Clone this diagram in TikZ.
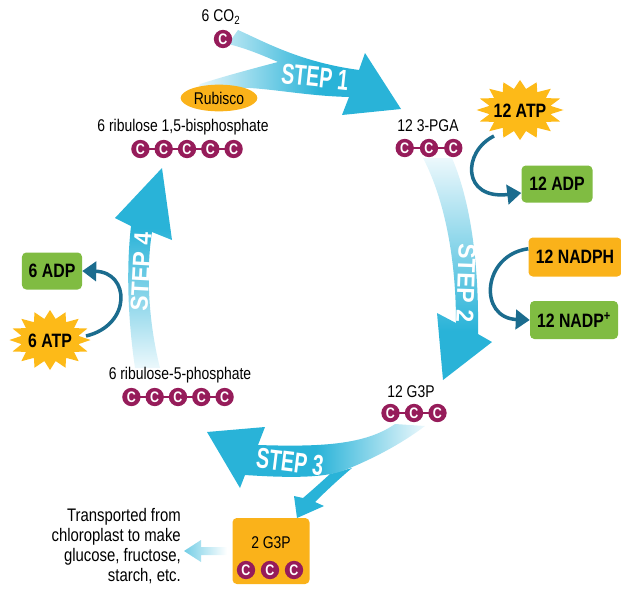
\documentclass[tikz,border=0pt]{standalone}
\usepackage{fontspec}
\setmainfont{Liberation Sans}[FakeStretch=0.82]
\newfontfamily\stepfont{Liberation Sans}[FakeStretch=0.68]
\newfontfamily\stepvfont{Liberation Sans}[FakeStretch=0.93]
\usetikzlibrary{shapes.geometric,arrows.meta}

\definecolor{stepcyan}{RGB}{41,179,216}
\definecolor{stepfaint}{RGB}{236,248,252}
\definecolor{carbon}{RGB}{150,28,90}
\definecolor{sunorange}{RGB}{250,178,26}
\definecolor{adpgreen}{RGB}{128,188,66}
\definecolor{cofteal}{RGB}{27,108,142}
\definecolor{burstyellow}{RGB}{253,186,24}

\pgfdeclarehorizontalshading{fadeEast}{100bp}{color(0bp)=(stepfaint); color(25bp)=(stepfaint); color(55bp)=(stepcyan); color(100bp)=(stepcyan)}
\pgfdeclarehorizontalshading{fadeWest}{100bp}{color(0bp)=(stepcyan); color(50bp)=(stepcyan); color(75bp)=(stepfaint); color(100bp)=(stepfaint)}
\pgfdeclareverticalshading{fadeSouth}{100bp}{color(0bp)=(stepcyan); color(36bp)=(stepcyan); color(75bp)=(stepfaint); color(100bp)=(stepfaint)}
\pgfdeclareverticalshading{fadeNorth}{100bp}{color(0bp)=(stepfaint); color(25bp)=(stepfaint); color(60bp)=(stepcyan); color(100bp)=(stepcyan)}

\pgfdeclarelayer{bands}
\pgfdeclarelayer{links}
\pgfsetlayers{bands,links,main}

% chain of carbon atoms: name, x, y, count, spacing
\newcommand{\carbons}[5]{%
  \foreach \k in {1,...,#4}
    \node[catom] (#1-\k) at ({#2+(\k-1-(#4-1)/2)*#5}, #3) {C};
  \begin{pgfonlayer}{links}
    \draw[carbon, line width=1.3pt] (#1-1.center) -- (#1-#4.center);
  \end{pgfonlayer}
}

\begin{document}
\begin{tikzpicture}[x=0.03cm,y=-0.03cm,
  lbl/.style={font=\fontsize{14.5}{17}\selectfont, inner sep=0pt},
  boxlbl/.style={font=\bfseries\fontsize{16.5}{19}\selectfont},
  steplbl/.style={font=\stepfont\bfseries\fontsize{24.5}{24}\selectfont, text=white, inner sep=0pt},
  stepvlbl/.style={font=\stepvfont\bfseries\fontsize{21}{21}\selectfont, text=white, inner sep=0pt},
  catom/.style={circle, fill=carbon, text=white, inner sep=0pt, minimum size=0.55cm, font=\bfseries\fontsize{13}{13}\selectfont},
  greenbox/.style={rectangle, rounded corners=0.13cm, fill=adpgreen, inner sep=0pt, boxlbl},
  orangebox/.style={rectangle, rounded corners=0.13cm, fill=sunorange, inner sep=0pt, boxlbl},
  burst/.style={star, star points=16, star point ratio=1.4, fill=burstyellow, inner sep=0pt, minimum size=1.8cm},
  cofarrow/.style={cofteal, line width=3pt, -{Triangle[length=0.42cm,width=0.58cm]}}]
\useasboundingbox (0,0) rectangle (621,588);

% Step bands
\begin{pgfonlayer}{bands}
\shade[shading=fadeEast] (238,30) .. controls (265,42) and (300,62) .. (359,70) -- (365,53) -- (401,109) -- (342,115) -- (349,97)
  .. controls (310,96) and (280,90) .. (250,88) .. controls (230,87) and (210,92) .. (195,96) -- (200,84)
  .. controls (225,76) and (255,68) .. (278,62) .. controls (262,55) and (245,48) .. (228,44) -- cycle;
\shade[shading=fadeSouth] (423,158) .. controls (445,200) and (456,260) .. (456,323) -- (437,313) -- (443,380) -- (492,342) -- (478,334)
  .. controls (479,260) and (470,200) .. (452,158) -- cycle;
\fill[stepcyan] (330,474) .. controls (318,485) and (310,492) .. (303,498) -- (294,496) -- (297,518) -- (324,506) -- (315,502)
  .. controls (325,492) and (340,478) .. (352,468) -- cycle;
\shade[shading=fadeWest] (395,424) .. controls (365,445) and (320,447) .. (258,445) -- (265,427) -- (207,432) -- (240,488) -- (245,475)
  .. controls (290,478) and (325,478) .. (345,470) .. controls (370,460) and (400,445) .. (425,426) -- cycle;
\shade[shading=fadeNorth] (135,368) .. controls (128,320) and (126,270) .. (131,226) -- (115,218) -- (162,168) -- (172,240) -- (152,232)
  .. controls (146,270) and (148,320) .. (160,368) -- cycle;
\end{pgfonlayer}

\node[steplbl, rotate=-6] (step1) at (315,77) {STEP 1};
\node[stepvlbl, rotate=-92] (step2) at (466,283) {STEP 2};
\node[steplbl, rotate=-7] (step3) at (290,462) {STEP 3};
\node[stepvlbl, rotate=87] (step4) at (141,272) {STEP 4};

% Molecules
\node[lbl] (co2lbl) at (221,17) {6 CO\textsubscript{2}};
\node[catom] (co2c) at (223,39) {C};
\node[ellipse, fill=sunorange, minimum width=2.3cm, minimum height=0.8cm, lbl] (rubisco) at (219,98) {Rubisco};
\node[lbl] (rubplbl) at (183,127) {6 ribulose 1,5-bisphosphate};
\carbons{rubp}{187}{149}{5}{23.3}
\node[lbl] (pgalbl) at (428,126) {12 3-PGA};
\carbons{pga}{429}{148}{3}{24.3}
\node[lbl] (gaplbl) at (411,392) {12 G3P};
\carbons{gap}{414}{413}{3}{23.5}
\node[lbl] (rufplbl) at (180,375) {6 ribulose-5-phosphate};
\carbons{rufp}{178}{397}{5}{23.3}

% Output
\node[rectangle, rounded corners=0.13cm, fill=sunorange, minimum width=2.31cm, minimum height=1.98cm] (outbox) at (271,551) {};
\node[lbl] (outlbl) at (271,543) {2 G3P};
\carbons{out}{270}{570}{3}{24}
\node[lbl, align=right, anchor=east, font=\fontsize{15.5}{17}\selectfont] (transtxt) at (181,546) {Transported from\\chloroplast to make\\glucose, fructose,\\starch, etc.};
\coordinate (tptip) at (184,551);
\shade[left color=stepcyan!65, right color=white] (tptip) -- ++(17,-11) -- ++(0,7) -- ++(26,0) -- ++(0,8) -- ++(-26,0) -- ++(0,7) -- cycle;

% Energy carriers
\node[burst, xscale=1.45] (atpR) at (520,110) {};
\node[boxlbl] (atpRtxt) at (520,111) {12 ATP};
\node[greenbox, minimum width=2.13cm, minimum height=1.11cm] (adpR) at (557,184) {12 ADP};
\node[orangebox, minimum width=2.79cm, minimum height=1.17cm] (nadph) at (575,257) {12 NADPH};
\node[greenbox, minimum width=2.64cm, minimum height=1.14cm] (nadp) at (574,320) {12 NADP\textsuperscript{+}};
\node[burst, xscale=1.35] (atpL) at (50,340) {};
\node[boxlbl] (atpLtxt) at (50,341) {6 ATP};
\node[greenbox, minimum width=1.8cm, minimum height=1.11cm] (adpL) at (52,271) {6 ADP};

\coordinate (atpRfoot) at (494,136);
\coordinate (atpLfoot) at (86,336);
\draw[cofarrow] (atpRfoot) .. controls (462,152) and (462,200) .. (adpR.194);
\draw[cofarrow] (nadph.170) .. controls (482,255) and (478,318) .. (nadp.west);
\draw[cofarrow] (atpLfoot) .. controls (132,325) and (130,272) .. (adpL.east);
\end{tikzpicture}
\end{document}
